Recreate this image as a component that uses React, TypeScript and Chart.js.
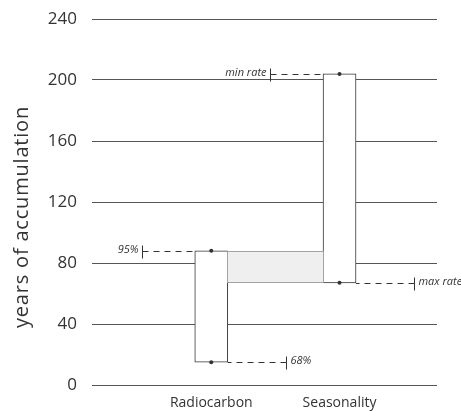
import { useEffect, useRef } from 'react';
import { Chart, registerables } from 'chart.js';

Chart.register(...registerables);

const categories = ['Radiocarbon', 'Seasonality'];
const lowerValues = [15, 67];
const upperValues = [88, 204];
const lowerLabels = ['68%', 'max rate'];
const upperLabels = ['95%', 'min rate'];
const yTicks = [0, 40, 80, 120, 160, 200, 240];
const yTitle = 'years of accumulation';

const FONT = '"Open Sans", sans-serif';
const INK = '#333333';

const rangePlugin = {
  id: 'rangeAnnotations',
  afterDatasetsDraw(chart: any) {
    const { ctx } = chart;
    const y = chart.scales.y;
    const bars = chart.getDatasetMeta(0).data;
    if (!bars || bars.length < 2) return;
    const edges = bars.map((b: any) => {
      const p = b.getProps(['x', 'width'], true);
      return { left: p.x - p.width / 2, right: p.x + p.width / 2 };
    });

    ctx.save();
    // overlap region between the two ranges
    const lo = Math.max(lowerValues[0], lowerValues[1]);
    const hi = Math.min(upperValues[0], upperValues[1]);
    if (hi > lo) {
      const yHi = Math.round(y.getPixelForValue(hi)) + 0.5;
      const yLo = Math.round(y.getPixelForValue(lo)) - 0.5;
      const xL = Math.round(edges[0].right) - 0.5;
      const xR = Math.round(edges[1].left) + 0.5;
      ctx.fillStyle = '#eeefee';
      ctx.fillRect(xL - 0.5, yHi - 0.5, xR - xL + 1, yLo - yHi + 1);
      ctx.strokeStyle = '#555555';
      ctx.lineWidth = 1;
      ctx.setLineDash([1, 1]);
      ctx.strokeRect(xL, yHi, xR - xL, yLo - yHi);
      ctx.setLineDash([]);
    }

    const drawMarker = (value: number, edge: number, dir: number, len: number, label: string) => {
      const yp = Math.round(y.getPixelForValue(value)) + 0.5;
      const tickX = Math.round(edge + dir * len) + 0.5;
      ctx.strokeStyle = INK;
      ctx.lineWidth = 1;
      ctx.setLineDash([6, 5]);
      ctx.beginPath();
      ctx.moveTo(tickX, yp);
      ctx.lineTo(edge, yp);
      ctx.stroke();
      ctx.setLineDash([]);
      ctx.beginPath();
      ctx.moveTo(tickX, yp - 6);
      ctx.lineTo(tickX, yp + 7);
      ctx.stroke();
      ctx.fillStyle = INK;
      ctx.font = `italic 11px ${FONT}`;
      ctx.textBaseline = 'middle';
      ctx.textAlign = dir < 0 ? 'right' : 'left';
      ctx.fillText(label, tickX + dir * 4, yp - 2);
    };

    for (let i = 0; i < categories.length; i++) {
      drawMarker(upperValues[i], edges[i].left, -1, 53, upperLabels[i]);
      drawMarker(lowerValues[i], edges[i].right, 1, 58, lowerLabels[i]);
    }
    ctx.restore();
  },
  afterDraw(chart: any) {
    const { ctx, chartArea } = chart;
    ctx.save();
    ctx.translate(22, (chartArea.top + chartArea.bottom) / 2 + 15);
    ctx.rotate(-Math.PI / 2);
    ctx.fillStyle = INK;
    ctx.font = `20px ${FONT}`;
    try {
      (ctx as any).letterSpacing = '0.8px';
    } catch (e) {}
    ctx.textAlign = 'center';
    ctx.textBaseline = 'middle';
    ctx.fillText(yTitle, 0, 0);
    ctx.restore();
  },
};

export default function App() {
  const canvasRef = useRef<HTMLCanvasElement>(null);

  useEffect(() => {
    if (!canvasRef.current) return;
    const points = [
      ...lowerValues.map((v, i) => ({ x: i, y: v })),
      ...upperValues.map((v, i) => ({ x: i, y: v })),
    ];
    const chart = new Chart(canvasRef.current, {
      type: 'bar',
      data: {
        datasets: [
          {
            type: 'bar',
            data: categories.map((_, i) => ({ x: i, y: [lowerValues[i], upperValues[i]] })) as any,
            backgroundColor: '#ffffff',
            borderColor: INK,
            borderWidth: 1,
            borderSkipped: false,
            barThickness: 33,
            order: 2,
          },
          {
            type: 'scatter',
            data: points,
            pointRadius: 2,
            pointBackgroundColor: INK,
            pointBorderColor: INK,
            pointBorderWidth: 0,
            order: 1,
          },
        ] as any,
      },
      options: {
        animation: false,
        responsive: false,
        layout: { padding: { top: 19, right: 24, left: 0, bottom: 0 } },
        plugins: { legend: { display: false }, tooltip: { enabled: false } },
        scales: {
          x: {
            type: 'linear',
            offset: false,
            min: -0.93,
            max: 1.76,
            grid: { display: false, drawTicks: false, offset: false },
            border: { display: false },
            afterBuildTicks: (scale: any) => {
              scale.ticks = categories.map((_, i) => ({ value: i }));
            },
            afterFit: (scale: any) => {
              scale.height = 26;
              scale.paddingLeft = 0;
              scale.paddingRight = 0;
            },
            ticks: {
              padding: 10,
              maxRotation: 0,
              autoSkip: false,
              color: INK,
              font: { family: FONT, size: 14 },
              callback: (v: any) => categories[v] ?? '',
            },
          },
          y: {
            min: 0,
            max: 240,
            afterBuildTicks: (scale: any) => {
              scale.ticks = yTicks.map((v) => ({ value: v }));
            },
            afterFit: (scale: any) => {
              scale.width = 92;
              scale.paddingTop = 0;
              scale.paddingBottom = 0;
            },
            grid: { color: '#555555', lineWidth: 1, drawTicks: false },
            border: { display: false },
            ticks: {
              padding: 15,
              color: INK,
              font: { family: FONT, size: 17 },
            },
            title: { display: false },
          },
        },
      },
      plugins: [rangePlugin],
    });
    return () => chart.destroy();
  }, []);

  return (
    <div style={{ position: 'fixed', left: 0, top: 0, width: 461, height: 411, background: '#fff' }}>
      <canvas ref={canvasRef} width={461} height={411} style={{ display: 'block' }} />
    </div>
  );
}
